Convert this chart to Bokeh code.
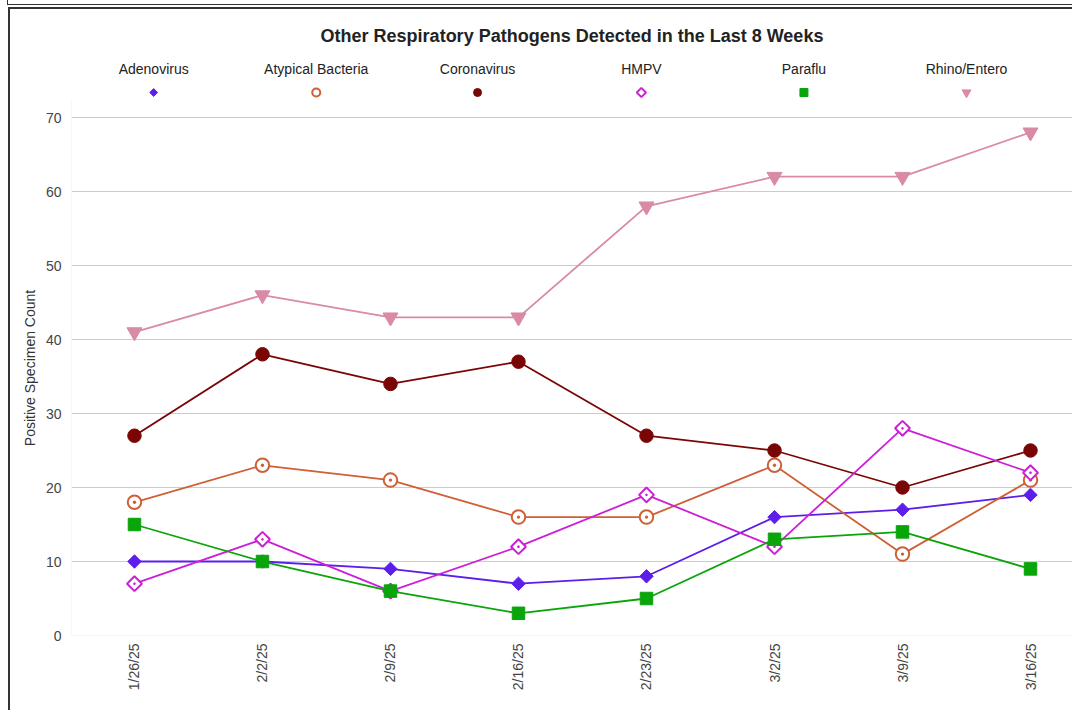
import math
from bokeh.plotting import figure
from bokeh.layouts import column
from bokeh.models import Range1d, FixedTicker, Span
from bokeh.core.properties import value
from bokeh.embed import file_html
from bokeh.resources import INLINE

# ---------------- data ----------------
weeks = ["1/26/25", "2/2/25", "2/9/25", "2/16/25", "2/23/25", "3/2/25", "3/9/25", "3/16/25"]
series_names = ["Adenovirus", "Atypical Bacteria", "Coronavirus", "HMPV", "Paraflu", "Rhino/Entero"]
adenovirus = [10, 10, 9, 7, 8, 16, 17, 19]
atypical_bacteria = [18, 23, 21, 16, 16, 23, 11, 21]
coronavirus = [27, 38, 34, 37, 27, 25, 20, 25]
hmpv = [7, 13, 6, 12, 19, 12, 28, 22]
paraflu = [15, 10, 6, 3, 5, 13, 14, 9]
rhino_entero = [41, 46, 43, 43, 58, 62, 62, 68]
y_ticks = [0, 10, 20, 30, 40, 50, 60, 70]

series_values = [adenovirus, atypical_bacteria, coronavirus, hmpv, paraflu, rhino_entero]

# ---------------- styles ----------------
FONT = "Liberation Sans"
D = math.pi / 4
styles = [
    dict(color="#5c1ee8", marker="square", angle=D, size=9.5, fill=True),
    dict(color="#cf5f34", marker="circle_dot", angle=0, size=13.5, fill=False),
    dict(color="#7a0505", marker="circle", angle=0, size=13.5, fill=True),
    dict(color="#cc1fd6", marker="square_dot", angle=D, size=10.5, fill=False),
    dict(color="#0aa50a", marker="square", angle=0, size=12.5, fill=True),
    dict(color="#d88aa7", marker="inverted_triangle", angle=0, size=15, fill=True),
]
legend_markers = [
    dict(marker="square", angle=D, size=5.5),
    dict(marker="circle", angle=0, size=8),
    dict(marker="circle", angle=0, size=8),
    dict(marker="square", angle=D, size=6.5),
    dict(marker="square", angle=0, size=8),
    dict(marker="inverted_triangle", angle=0, size=9),
]
legend_x = [0.15, 1.42, 2.68, 3.96, 5.23, 6.50]
legend_text_y = 68      # header uses pixel-like coordinates (top = 0)
legend_marker_y = 92

box_lines = ("linear-gradient(#333,#333) 7px 4px / 100% 1px no-repeat,"
             "linear-gradient(#333,#333) 7px 0px / 1px 5px no-repeat,"
             "linear-gradient(#333,#333) 8px 7px / 100% 2px no-repeat,"
             "linear-gradient(#333,#333) 8px 7px / 2px 100% no-repeat,"
             "#ffffff")

x_idx = list(range(len(weeks)))
x_range = Range1d(-0.492, 7.328)

# ---------------- header: title + legend ----------------
head = figure(
    width=1072, height=100,
    output_backend="svg", toolbar_location=None,
    x_range=x_range, y_range=Range1d(100, 48),
    min_border_left=71, min_border_right=0, min_border_top=48, min_border_bottom=0,
    title="Other Respiratory Pathogens Detected in the Last 8 Weeks",
    x_axis_type=None, y_axis_type=None,
)
head.outline_line_color = None
head.border_fill_color = None
head.background_fill_color = "white"
head.grid.grid_line_color = None
head.title.align = "center"
head.title.text_font = FONT
head.title.text_font_size = "18px"
head.title.text_font_style = "bold"
head.title.text_color = "#222222"
head.title.standoff = 6

head.text(x=legend_x, y=[legend_text_y] * len(series_names), text=series_names,
          text_font=value(FONT), text_font_size="14px", text_color="#222222",
          text_align="center", text_baseline="middle")
for lx, st, lm in zip(legend_x, styles, legend_markers):
    head.scatter([lx], [legend_marker_y], marker=lm["marker"], angle=lm["angle"], size=lm["size"],
                 line_color=st["color"], line_width=2 if not st["fill"] else 1,
                 fill_color=st["color"] if st["fill"] else "white")

# ---------------- main chart ----------------
p = figure(
    width=1072, height=610,
    output_backend="svg", toolbar_location=None,
    x_range=x_range, y_range=Range1d(0, 72.3),
    min_border_left=71, min_border_right=0, min_border_top=0, min_border_bottom=75,
)
p.outline_line_color = None
p.background_fill_color = "white"
p.border_fill_color = None

p.xaxis.ticker = FixedTicker(ticks=x_idx)
p.xaxis.major_label_overrides = {i: w for i, w in zip(x_idx, weeks)}
p.xaxis.major_label_orientation = math.pi / 2
p.yaxis.ticker = FixedTicker(ticks=y_ticks)
for ax in (p.xaxis[0], p.yaxis[0]):
    ax.axis_line_color = None
    ax.major_tick_line_color = None
    ax.minor_tick_line_color = None
    ax.major_label_text_font = FONT
    ax.major_label_text_font_size = "14px"
    ax.major_label_text_color = "#444444"
p.xaxis.major_label_standoff = 2
p.yaxis.major_label_standoff = 4
p.yaxis.axis_label = "Positive Specimen Count"
p.yaxis.axis_label_text_font = FONT
p.yaxis.axis_label_text_font_size = "14px"
p.yaxis.axis_label_text_font_style = "normal"
p.yaxis.axis_label_text_color = "#333333"
p.yaxis.axis_label_standoff = 5

p.xgrid.grid_line_color = None
p.ygrid.ticker = FixedTicker(ticks=y_ticks[1:])
p.ygrid.grid_line_color = "#cccccc"
p.ygrid.grid_line_width = 1
p.add_layout(Span(location=0, dimension="width", line_color="#eeeeee", line_width=1))
p.add_layout(Span(location=-0.492, dimension="height", line_color="#eeeeee", line_width=1))

for name, vals, st in zip(series_names, series_values, styles):
    p.line(x_idx, vals, line_color=st["color"], line_width=1.8)
    p.scatter(x_idx, vals, marker=st["marker"], angle=st["angle"], size=st["size"],
              line_color=st["color"], line_width=2 if not st["fill"] else 1,
              fill_color=st["color"] if st["fill"] else "white")

layout = column(head, p, spacing=0, styles={"background": box_lines})

open("out.html", "w").write(file_html(layout, INLINE))
